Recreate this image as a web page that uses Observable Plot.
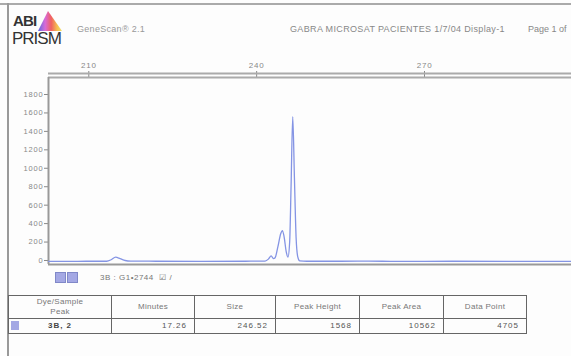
<!DOCTYPE html>
<html>
<head>
<meta charset="utf-8">
<script src="https://cdn.jsdelivr.net/npm/d3@7"></script>
<script src="https://cdn.jsdelivr.net/npm/@observablehq/plot@0.6"></script>
<style>
  html, body { margin:0; padding:0; background:#fff; overflow:hidden; }
  #page { position:relative; width:571px; height:356px; overflow:hidden; background:#fdfdfd; font-family:"Liberation Sans", Arial, sans-serif; color:#777; }
  .abs { position:absolute; white-space:nowrap; }
  #chart { position:absolute; left:0; top:0; }
  #chart svg { overflow:visible; background:transparent; }
  table.peaks { position:absolute; left:8px; top:295px; border-collapse:collapse; font-size:8px; color:#777; letter-spacing:0.3px; table-layout:fixed; }
  table.peaks td { border:1.5px solid #666; padding:0 7px; height:22px; text-align:center; line-height:10px; overflow:hidden; }
  table.peaks tr.data td { height:14px; text-align:right; color:#555; }
</style>
</head>
<body>
<div id="page">
  <div class="abs" style="left:0;top:3px;width:571px;height:2px;background:#aaa;"></div>
  <div class="abs" style="left:7px;top:3px;width:2px;height:353px;background:#999;"></div>

  <!-- logo -->
  <div class="abs" style="left:13px;top:13px;font-size:15px;line-height:15px;color:#333;font-family:'Liberation Sans Narrow','Liberation Sans',Arial,sans-serif;letter-spacing:-0.8px;font-weight:bold;">ABI</div>
  <svg class="abs" style="left:36px;top:10px" width="28" height="24">
    <defs>
      <linearGradient id="rb" x1="0" x2="1" y1="0" y2="0">
        <stop offset="0" stop-color="#5a6be0"/>
        <stop offset="0.3" stop-color="#d86ad8"/>
        <stop offset="0.55" stop-color="#f06060"/>
        <stop offset="0.8" stop-color="#f4c050"/>
        <stop offset="1" stop-color="#f0e070"/>
      </linearGradient>
    </defs>
    <polygon points="12,1 26,21 2,21" fill="url(#rb)"/>
  </svg>
  <div class="abs" style="left:12px;top:31px;font-size:17px;line-height:16px;color:#333;font-family:'Liberation Sans Narrow','Liberation Sans',Arial,sans-serif;letter-spacing:-1px;">PRISM</div>

  <div class="abs" style="left:77px;top:24px;font-size:9px;color:#999;letter-spacing:0.3px;">GeneScan® 2.1</div>
  <div class="abs" style="left:290px;top:24px;font-size:9px;color:#888;letter-spacing:0.35px;">GABRA MICROSAT PACIENTES 1/7/04 Display-1</div>
  <div class="abs" style="left:528px;top:24px;font-size:9px;color:#888;">Page 1 of</div>

  <div id="chart"></div>

  <div class="abs" style="left:55px;top:272px;width:11px;height:11px;background:#a4a8e4;border:1px solid #8088c8;box-sizing:border-box;"></div>
  <div class="abs" style="left:67px;top:272px;width:11px;height:11px;background:#a4a8e4;border:1px solid #8088c8;box-sizing:border-box;"></div>
  <div class="abs" style="left:100px;top:273px;font-size:8px;color:#777;letter-spacing:0.5px;">3B : G1•2744&nbsp;&nbsp;☑ /</div>

  <table class="peaks">
    <tr id="headrow"></tr>
    <tr class="data" id="datarow"></tr>
  </table>
</div>

<script>
// ---- data ----
const sizes = [202.8, 206, 210, 213.2, 214.0, 214.8, 215.6, 216.5, 217.5, 222, 230, 238, 241.5, 242.1, 242.6, 243.0, 243.3, 243.8, 244.3, 244.6, 244.9, 245.3, 245.6, 245.9, 246.15, 246.45, 246.75, 247.05, 247.35, 247.7, 249, 255, 260, 265, 275, 285, 296.3];
const signal = [-10, -10, -8, -8, 8, 36, 20, 0, -6, -8, -10, -8, -6, 15, 50, 20, 30, 150, 290, 325, 260, 90, 36, 200, 800, 1560, 900, 250, 40, -5, -8, -8, -6, -10, -8, -10, -10];
const xTicks = [210, 240, 270];
const yTicks = [0, 200, 400, 600, 800, 1000, 1200, 1400, 1600, 1800];
const tableHeaders = ["Dye/Sample<br>Peak", "Minutes", "Size", "Peak Height", "Peak Area", "Data Point"];
const peakRow = ["3B, 2", "17.26", "246.52", "1568", "10562", "4705"];

const trace = sizes.map((s, i) => ({size: s, value: signal[i]}));

const xDom = [202.8, 296.27];
const yDom = [-43.4, 1984.3];
const yPerPx = (yDom[1] - yDom[0]) / (264 - 77);

const chart = Plot.plot({
  width: 571,
  height: 270,
  marginTop: 77,
  marginBottom: 6,
  marginLeft: 48,
  marginRight: 0,
  style: {background: "transparent", fontFamily: "Liberation Sans, Arial, sans-serif"},
  x: {domain: xDom},
  y: {domain: yDom},
  marks: [
    Plot.axisX({anchor: "top", ticks: xTicks, tickSize: 7, tickPadding: 3, label: null, fontSize: 8, color: "#888", tickFormat: d => String(d)}),
    Plot.axisY({ticks: yTicks, tickSize: 4, tickPadding: 1, label: null, fontSize: 7.5, color: "#888", tickFormat: d => String(d)}),
    Plot.ruleY([yDom[1] + 4 * yPerPx], {stroke: "#aaa", strokeWidth: 2}),
    Plot.ruleY([yDom[1]], {stroke: "#aaa", strokeWidth: 2}),
    Plot.ruleY([yDom[0]], {stroke: "#999", strokeWidth: 2}),
    Plot.ruleX([xDom[0]], {stroke: "#999", strokeWidth: 2}),
    Plot.line(trace, {x: "size", y: "value", stroke: "#8494e4", strokeWidth: 1.3, curve: "monotone-x"})
  ]
});
chart.querySelectorAll("text").forEach(t => t.setAttribute("letter-spacing", "0.8"));
document.getElementById("chart").appendChild(chart);

// table rows
const colW = [88, 68, 66, 69, 69, 68];
const head = document.getElementById("headrow");
tableHeaders.forEach((h, i) => {
  const td = document.createElement("td");
  td.style.width = colW[i] + "px";
  td.innerHTML = h;
  head.appendChild(td);
});
const row = document.getElementById("datarow");
peakRow.forEach((v, i) => {
  const td = document.createElement("td");
  if (i === 0) {
    td.style.textAlign = "center";
    td.style.position = "relative";
    td.innerHTML = '<span style="position:absolute;left:2px;top:2px;width:8px;height:9px;background:#a4a8e4;"></span><b style="letter-spacing:1px;color:#444">' + v + '</b>';
  } else {
    td.textContent = v;
    td.style.letterSpacing = "1px";
  }
  row.appendChild(td);
});
</script>
</body>
</html>
